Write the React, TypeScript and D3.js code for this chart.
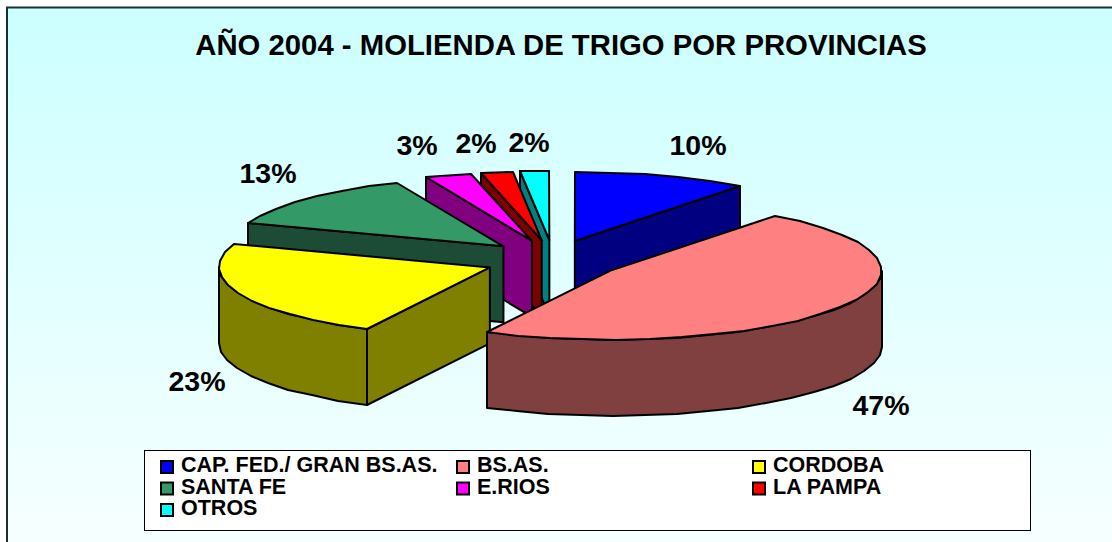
import React from 'react';
import * as d3 from 'd3';

const title = 'AÑO 2004 - MOLIENDA DE TRIGO POR PROVINCIAS';
const provinces = ['CAP. FED./ GRAN BS.AS.', 'BS.AS.', 'CORDOBA', 'SANTA FE', 'E.RIOS', 'LA PAMPA', 'OTROS'];
const shares = [10.4, 47.1, 22.9, 13.2, 2.8, 1.9, 1.7];
const topColors = ['#0000FF', '#FF8080', '#FFFF00', '#339966', '#FF00FF', '#FF0000', '#00FFFF'];
const sideColors = ['#000080', '#804040', '#808000', '#1C4C36', '#800080', '#800000', '#008080'];
// painter's order, back slices first
const drawOrder = [0, 6, 5, 4, 3, 2, 1];
const labelSpots: [number, number][] = [
  [698, 155], [881, 415], [197, 391], [268, 183], [417, 155], [476, 153], [529, 152],
];

const W = 1112;
const H = 542;
const rx = 271;
const ry = 69;
const depth = 76;
const center = { x: 553, y: 260 };
const explodeX = 68;
const explodeY = 20;
const facet = (7 * Math.PI) / 180;

const pieGen = d3.pie<number>().sort(null).startAngle(0).endAngle(2 * Math.PI);
const slices = pieGen(shares);

const xScale = d3.scaleLinear().domain([-1, 1]).range([-rx, rx]);
const yScale = d3.scaleLinear().domain([-1, 1]).range([-ry, ry]);
const line = d3.line<[number, number]>();

function rimPoints(a0: number, a1: number, cx: number, cy: number): [number, number][] {
  const n = Math.max(1, Math.round((a1 - a0) / facet));
  return d3.range(n + 1).map((i) => {
    const a = a0 + ((a1 - a0) * i) / n;
    return [Math.round(cx + xScale(Math.sin(a))), Math.round(cy - yScale(Math.cos(a)))] as [number, number];
  });
}

function Slice({ index }: { index: number }) {
  const s = slices[index];
  const mid = (s.startAngle + s.endAngle) / 2;
  const cx = center.x + explodeX * Math.sin(mid);
  const cy = center.y - explodeY * Math.cos(mid);
  const walls: [number, number][][] = [];

  // front rim, only the part between 3 and 9 o'clock can be seen
  const f0 = Math.max(s.startAngle, Math.PI / 2);
  const f1 = Math.min(s.endAngle, (3 * Math.PI) / 2);
  if (f1 > f0) {
    const rim = rimPoints(f0, f1, cx, cy);
    const low = rim.map(([x, y]) => [x, y + depth] as [number, number]).reverse();
    walls.push([...rim, ...low]);
  }
  const radial = (a: number): [number, number][] => {
    const [p] = rimPoints(a, a, cx, cy);
    return [[cx, cy], p, [p[0], p[1] + depth], [cx, cy + depth]];
  };
  if (Math.sin(s.startAngle) < -1e-6) walls.push(radial(s.startAngle));
  if (Math.sin(s.endAngle) > 1e-6) walls.push(radial(s.endAngle));

  const top: [number, number][] = [[cx, cy], ...rimPoints(s.startAngle, s.endAngle, cx, cy)];
  return (
    <g stroke="#000" strokeWidth={2} strokeLinejoin="round">
      {walls.map((w, i) => (
        <path key={i} d={line(w) + 'Z'} fill={sideColors[index]} />
      ))}
      <path d={line(top) + 'Z'} fill={topColors[index]} />
    </g>
  );
}

const legendCols = [160, 456, 752];
const legendRows = [460, 481.5, 503];

export default function App() {
  return (
    <svg width={W} height={H} style={{ position: 'absolute', left: 0, top: 0 }} fontFamily="'Liberation Sans', Arial, sans-serif" fontWeight="bold">
      <defs>
        <linearGradient id="bg" x1="0" y1="0" x2="0" y2="1">
          <stop offset="0" stopColor="#CCFFFF" />
          <stop offset="1" stopColor="#F7FFFF" />
        </linearGradient>
      </defs>
      {/* frame runs off the right and bottom of the picture */}
      <rect x={7} y={7.5} width={W + 20} height={H} fill="url(#bg)" stroke="#1a3030" strokeWidth={2} />
      <text x={561} y={55} textAnchor="middle" fontSize={29.3}>{title}</text>
      {drawOrder.map((i) => (
        <Slice key={i} index={i} />
      ))}
      {slices.map((s, i) => (
        <text key={i} x={labelSpots[i][0]} y={labelSpots[i][1]} textAnchor="middle" fontSize={28.5}>
          {d3.format('.0f')(s.value)}%
        </text>
      ))}
      <rect x={144.5} y={450.5} width={886} height={80} fill="#fff" stroke="#000" strokeWidth={1} />
      {provinces.map((p, i) => {
        const x = legendCols[i % 3];
        const y = legendRows[Math.floor(i / 3)];
        return (
          <g key={p}>
            <rect x={x + 1} y={y + 1} width={12} height={12} fill={topColors[i]} stroke="#000" strokeWidth={2} />
            <text x={x + 21} y={y + 12} fontSize={21.5}>{p}</text>
          </g>
        );
      })}
    </svg>
  );
}
